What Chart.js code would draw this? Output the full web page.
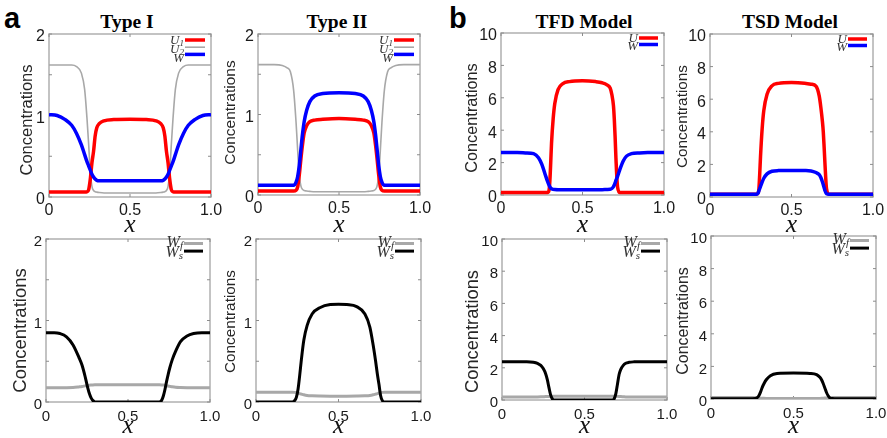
<!DOCTYPE html>
<html>
<head>
<meta charset="utf-8">
<script src="https://cdn.jsdelivr.net/npm/chart.js@4.4.1/dist/chart.umd.min.js"></script>
<style>
  html, body { margin: 0; padding: 0; background: #fff; overflow: hidden; }
  #fig { position: relative; width: 887px; height: 438px; }
  #fig canvas { position: absolute; }
  .ttl { position: absolute; top: 12px; font: bold 19.5px "Liberation Serif", "Times New Roman", serif; line-height: 1; color: #000; transform: translateX(-50%); white-space: nowrap; }
  .tag { position: absolute; top: 4px; font: bold 29px "Liberation Sans", Arial, sans-serif; line-height: 1; color: #000; }
</style>
</head>
<body>
<div id="fig">
  <div class="tag" style="left:4px">a</div>
  <div class="tag" style="left:449px">b</div>
  <div class="ttl" style="left:127px">Type I</div>
  <div class="ttl" style="left:337px">Type II</div>
  <div class="ttl" style="left:584px">TFD Model</div>
  <div class="ttl" style="left:790px">TSD Model</div>
</div>
<script>
// ---- data ----
// a, top: Type I
const typeIX  = [0, 0.05, 0.1, 0.14, 0.17, 0.2, 0.22, 0.235, 0.245, 0.255, 0.265, 0.275, 0.285, 0.295, 0.31, 0.34, 0.4, 0.5, 0.6, 0.66, 0.69, 0.705, 0.715, 0.725, 0.735, 0.745, 0.755, 0.765, 0.78, 0.8, 0.83, 0.86, 0.9, 0.95, 1.0];
const typeIU1 = [0.06, 0.06, 0.06, 0.06, 0.06, 0.06, 0.06, 0.065, 0.09, 0.22, 0.42, 0.56, 0.75, 0.85, 0.9, 0.935, 0.95, 0.955, 0.95, 0.935, 0.9, 0.85, 0.75, 0.56, 0.42, 0.22, 0.09, 0.065, 0.06, 0.06, 0.06, 0.06, 0.06, 0.06, 0.06];
const typeIU2 = [1.62, 1.62, 1.62, 1.62, 1.6, 1.52, 1.32, 0.95, 0.64, 0.3, 0.13, 0.08, 0.065, 0.06, 0.055, 0.05, 0.05, 0.05, 0.05, 0.05, 0.055, 0.06, 0.065, 0.08, 0.13, 0.3, 0.64, 0.95, 1.32, 1.52, 1.6, 1.62, 1.62, 1.62, 1.62];
const typeIW  = [1.01, 1.0, 0.95, 0.88, 0.78, 0.64, 0.52, 0.43, 0.38, 0.33, 0.28, 0.245, 0.22, 0.205, 0.2, 0.2, 0.2, 0.2, 0.2, 0.2, 0.2, 0.205, 0.22, 0.245, 0.28, 0.33, 0.38, 0.43, 0.52, 0.64, 0.78, 0.88, 0.95, 1.0, 1.01];

// a, top: Type II
const typeIIX  = [0, 0.05, 0.1, 0.15, 0.18, 0.2, 0.22, 0.235, 0.245, 0.255, 0.265, 0.275, 0.285, 0.3, 0.32, 0.35, 0.4, 0.5, 0.6, 0.65, 0.68, 0.7, 0.715, 0.725, 0.735, 0.745, 0.755, 0.765, 0.78, 0.8, 0.82, 0.85, 0.9, 0.95, 1.0];
const typeIIU1 = [0.05, 0.05, 0.05, 0.05, 0.05, 0.05, 0.05, 0.06, 0.1, 0.25, 0.45, 0.63, 0.77, 0.86, 0.91, 0.93, 0.94, 0.95, 0.94, 0.93, 0.91, 0.86, 0.77, 0.63, 0.45, 0.25, 0.1, 0.06, 0.05, 0.05, 0.05, 0.05, 0.05, 0.05, 0.05];
const typeIIU2 = [1.62, 1.62, 1.62, 1.61, 1.58, 1.53, 1.3, 0.9, 0.55, 0.24, 0.11, 0.07, 0.055, 0.05, 0.045, 0.04, 0.04, 0.04, 0.04, 0.04, 0.045, 0.05, 0.055, 0.07, 0.11, 0.24, 0.55, 0.9, 1.3, 1.53, 1.58, 1.61, 1.62, 1.62, 1.62];
const typeIIW  = [0.12, 0.12, 0.12, 0.12, 0.12, 0.12, 0.12, 0.16, 0.23, 0.37, 0.57, 0.76, 0.91, 1.05, 1.16, 1.23, 1.26, 1.27, 1.26, 1.23, 1.16, 1.05, 0.91, 0.76, 0.57, 0.37, 0.23, 0.16, 0.12, 0.12, 0.12, 0.12, 0.12, 0.12, 0.12];

// b, top: TFD and TSD models
const modelX = [0, 0.05, 0.1, 0.15, 0.2, 0.23, 0.25, 0.27, 0.285, 0.295, 0.3, 0.305, 0.31, 0.32, 0.33, 0.35, 0.38, 0.42, 0.5, 0.58, 0.62, 0.65, 0.67, 0.68, 0.69, 0.695, 0.7, 0.705, 0.715, 0.73, 0.75, 0.77, 0.8, 0.85, 0.9, 0.95, 1.0];
const tfdU = [0.15, 0.15, 0.15, 0.15, 0.15, 0.15, 0.15, 0.15, 0.15, 0.3, 0.9, 2.0, 3.2, 4.7, 5.65, 6.5, 6.88, 7.0, 7.05, 7.0, 6.93, 6.8, 6.6, 6.2, 5.5, 4.7, 3.6, 2.3, 0.5, 0.15, 0.15, 0.15, 0.15, 0.15, 0.15, 0.15, 0.15];
const tfdW = [2.62, 2.62, 2.62, 2.6, 2.55, 2.3, 1.9, 1.3, 0.85, 0.6, 0.5, 0.43, 0.39, 0.35, 0.34, 0.33, 0.33, 0.33, 0.33, 0.33, 0.33, 0.34, 0.35, 0.4, 0.52, 0.62, 0.75, 0.9, 1.15, 1.6, 2.1, 2.4, 2.55, 2.6, 2.62, 2.62, 2.62];
const tsdU = [0.17, 0.17, 0.17, 0.17, 0.17, 0.17, 0.17, 0.17, 0.17, 0.24, 0.5, 1.4, 2.5, 4.2, 5.3, 6.3, 6.82, 6.97, 7.02, 6.98, 6.92, 6.8, 6.2, 5.5, 4.6, 4.0, 3.1, 2.1, 0.5, 0.17, 0.17, 0.17, 0.17, 0.17, 0.17, 0.17, 0.17];
const tsdW = [0.17, 0.17, 0.17, 0.17, 0.17, 0.17, 0.17, 0.17, 0.17, 0.24, 0.38, 0.52, 0.65, 0.92, 1.15, 1.42, 1.58, 1.62, 1.63, 1.62, 1.6, 1.5, 1.37, 1.2, 0.92, 0.75, 0.58, 0.4, 0.2, 0.17, 0.17, 0.17, 0.17, 0.17, 0.17, 0.17, 0.17];

// bottom row: W_f and W_s
const wTypeIX  = [0, 0.05, 0.085, 0.125, 0.165, 0.2, 0.22, 0.24, 0.255, 0.265, 0.275, 0.285, 0.3, 0.35, 0.5, 0.65, 0.69, 0.705, 0.715, 0.725, 0.735, 0.745, 0.755, 0.77, 0.79, 0.82, 0.86, 0.9, 0.95, 1.0];
const wTypeIWf = [0.176, 0.176, 0.176, 0.176, 0.178, 0.185, 0.19, 0.198, 0.203, 0.206, 0.208, 0.21, 0.211, 0.212, 0.213, 0.212, 0.211, 0.21, 0.208, 0.205, 0.2, 0.196, 0.192, 0.186, 0.18, 0.177, 0.176, 0.176, 0.176, 0.176];
const wTypeIWs = [0.85, 0.85, 0.84, 0.8, 0.7, 0.55, 0.45, 0.3, 0.17, 0.1, 0.05, 0.02, 0, 0, 0, 0, 0, 0.02, 0.07, 0.15, 0.25, 0.34, 0.42, 0.52, 0.62, 0.74, 0.81, 0.84, 0.85, 0.85];

const wTypeIIX  = [0, 0.05, 0.1, 0.15, 0.2, 0.22, 0.235, 0.245, 0.255, 0.265, 0.275, 0.29, 0.31, 0.34, 0.39, 0.45, 0.5, 0.55, 0.61, 0.66, 0.69, 0.71, 0.725, 0.735, 0.745, 0.755, 0.765, 0.78, 0.8, 0.85, 0.9, 0.95, 1.0];
const wTypeIIWf = [0.12, 0.12, 0.12, 0.12, 0.12, 0.12, 0.118, 0.115, 0.11, 0.103, 0.097, 0.088, 0.08, 0.076, 0.073, 0.071, 0.07, 0.071, 0.073, 0.076, 0.08, 0.088, 0.097, 0.103, 0.11, 0.115, 0.118, 0.12, 0.12, 0.12, 0.12, 0.12, 0.12];
const wTypeIIWs = [0, 0, 0, 0, 0, 0, 0.02, 0.06, 0.16, 0.33, 0.52, 0.76, 0.94, 1.08, 1.16, 1.195, 1.2, 1.195, 1.17, 1.08, 0.92, 0.7, 0.5, 0.35, 0.22, 0.08, 0.02, 0, 0, 0, 0, 0, 0];

const wTfdX  = [0, 0.05, 0.1, 0.15, 0.19, 0.215, 0.235, 0.25, 0.265, 0.275, 0.285, 0.295, 0.305, 0.315, 0.33, 0.4, 0.5, 0.6, 0.67, 0.68, 0.69, 0.7, 0.71, 0.72, 0.735, 0.75, 0.77, 0.8, 0.85, 0.9, 0.95, 1.0];
const wTfdWf = [0.18, 0.18, 0.18, 0.18, 0.18, 0.185, 0.195, 0.205, 0.215, 0.22, 0.225, 0.23, 0.235, 0.237, 0.24, 0.24, 0.24, 0.24, 0.238, 0.235, 0.23, 0.225, 0.218, 0.21, 0.2, 0.19, 0.183, 0.18, 0.18, 0.18, 0.18, 0.18];
const wTfdWs = [2.38, 2.38, 2.38, 2.38, 2.35, 2.28, 2.15, 1.95, 1.62, 1.25, 0.75, 0.3, 0.07, 0, 0, 0, 0, 0, 0, 0.08, 0.4, 1.0, 1.6, 1.9, 2.15, 2.28, 2.34, 2.37, 2.38, 2.38, 2.38, 2.38];

const wTsdX  = [0, 0.05, 0.1, 0.15, 0.2, 0.25, 0.268, 0.28, 0.29, 0.3, 0.31, 0.32, 0.335, 0.36, 0.4, 0.5, 0.6, 0.64, 0.66, 0.67, 0.68, 0.69, 0.7, 0.71, 0.72, 0.735, 0.75, 0.8, 0.85, 0.9, 0.95, 1.0];
const wTsdWf = [0.09, 0.09, 0.09, 0.09, 0.09, 0.085, 0.08, 0.07, 0.06, 0.05, 0.045, 0.04, 0.035, 0.03, 0.03, 0.03, 0.03, 0.032, 0.037, 0.042, 0.05, 0.058, 0.066, 0.074, 0.08, 0.085, 0.088, 0.09, 0.09, 0.09, 0.09, 0.09];
const wTsdWs = [0.02, 0.02, 0.02, 0.02, 0.02, 0.02, 0.03, 0.08, 0.2, 0.42, 0.7, 0.92, 1.18, 1.43, 1.56, 1.59, 1.57, 1.5, 1.33, 1.18, 0.95, 0.67, 0.4, 0.2, 0.07, 0.03, 0.02, 0.02, 0.02, 0.02, 0.02, 0.02];

const xTickLabels = { 0: "0", 0.5: "0.5", 1: "1.0" };
const yTitle = "Concentrations";

// ---- styling ----
const RED = "#ff0000", BLUE = "#0000ff", LIGHT = "#a8a8a8", BLACK = "#000000";
const SERIF = '"Liberation Serif", "Times New Roman", serif';
const SANS = '"Liberation Sans", Arial, sans-serif';

Chart.defaults.font.family = SANS;
Chart.defaults.color = "#1a1a1a";

function toPoints(xs, ys) {
  return xs.map((x, i) => ({ x: x, y: ys[i] }));
}

// box frame, inner ticks, rotated y title and the small legend
const framePlugin = {
  id: "frame",
  beforeDatasetsDraw(chart, args, o) {
    const { ctx, chartArea: a, scales: { x, y } } = chart;
    ctx.save();
    ctx.strokeStyle = "#b0b0b0";
    ctx.lineWidth = 1.5;
    ctx.strokeRect(a.left, a.top, a.right - a.left, a.bottom - a.top);

    ctx.strokeStyle = "#8c8c8c";
    ctx.lineWidth = 1;
    ctx.beginPath();
    y.ticks.forEach(t => {
      const py = y.getPixelForValue(t.value);
      ctx.moveTo(a.left, py); ctx.lineTo(a.left + 3, py);
      ctx.moveTo(a.right, py); ctx.lineTo(a.right - 3, py);
    });
    x.ticks.forEach(t => {
      const px = x.getPixelForValue(t.value);
      ctx.moveTo(px, a.top); ctx.lineTo(px, a.top + 3);
      ctx.moveTo(px, a.bottom); ctx.lineTo(px, a.bottom - 3);
    });
    ctx.stroke();

    ctx.translate(a.left - o.titleOff, (a.top + a.bottom) / 2 + o.titleDy);
    ctx.rotate(-Math.PI / 2);
    ctx.font = o.titleSize + "px " + SANS;
    ctx.fillStyle = "#262626";
    ctx.textAlign = "center";
    ctx.textBaseline = "middle";
    ctx.fillText(yTitle, 0, 0);
    ctx.restore();
  },
  afterDatasetsDraw(chart, args, o) {
    const { ctx, chartArea: a } = chart;
    const lg = o.legend;
    ctx.save();
    chart.data.datasets.forEach((ds, i) => {
      const ly = a.top + lg.ly + i * lg.ldy;
      const ty = a.top + lg.ty + i * lg.tdy;
      const x0 = a.right - lg.x0, x1 = a.right - lg.x1;
      ctx.strokeStyle = ds.borderColor;
      ctx.lineWidth = ds.borderWidth;
      ctx.beginPath(); ctx.moveTo(x0, ly); ctx.lineTo(x1, ly); ctx.stroke();

      ctx.fillStyle = "#333";
      ctx.textAlign = "right";
      ctx.textBaseline = "alphabetic";
      let xr = x0 - 1;
      if (ds.sub) {
        ctx.font = "italic " + Math.round(lg.size * 0.7) + "px " + SERIF;
        ctx.fillText(ds.sub, xr, ty + 2);
        xr -= ctx.measureText(ds.sub).width;
      }
      ctx.font = "italic " + lg.size + "px " + SERIF;
      ctx.fillText(ds.main, xr, ty);
    });
    ctx.restore();
  }
};

const topLegend3 = { x0: 26, x1: 6, ly: 6, ldy: 7.2, ty: 9.5, tdy: 9, size: 13 };
const topLegend2 = { x0: 25, x1: 6, ly: 5, ldy: 6.5, ty: 8.7, tdy: 8.3, size: 13 };
const lowLegend  = { x0: 26, x1: 7, ly: 4.5, ldy: 7.6, ty: 7.7, tdy: 10.5, size: 16 };

const panels = [
  { box: [49, 34, 211, 197], yMax: 2, yStep: 0.5, x: typeIX, top: true, titleOff: 22, titleDy: 4.5, titleSize: 16.5, legend: topLegend3,
    series: [
      { y: typeIU1, main: "U", sub: "1", color: RED, width: 3.5, order: 1 },
      { y: typeIU2, main: "U", sub: "2", color: LIGHT, width: 1.6, order: 2 },
      { y: typeIW, main: "W", sub: "", color: BLUE, width: 3.5, order: 0 }] },
  { box: [258, 34, 420, 195], yMax: 2, yStep: 0.5, x: typeIIX, top: true, titleOff: 27, titleDy: -2, titleSize: 15.5, legend: topLegend3,
    series: [
      { y: typeIIU1, main: "U", sub: "1", color: RED, width: 3.5, order: 1 },
      { y: typeIIU2, main: "U", sub: "2", color: LIGHT, width: 1.6, order: 2 },
      { y: typeIIW, main: "W", sub: "", color: BLUE, width: 3.5, order: 0 }] },
  { box: [501, 33, 664, 195], yMax: 10, yStep: 2, x: modelX, top: true, titleOff: 28.5, titleDy: 4, titleSize: 16.3, legend: topLegend2,
    series: [
      { y: tfdU, main: "U", sub: "", color: RED, width: 3.5, order: 1 },
      { y: tfdW, main: "W", sub: "", color: BLUE, width: 3.5, order: 0 }] },
  { box: [710, 34, 873, 197], yMax: 10, yStep: 2, x: modelX, top: true, titleOff: 27.5, titleDy: 1, titleSize: 15.3, legend: topLegend2,
    series: [
      { y: tsdU, main: "U", sub: "", color: RED, width: 3.5, order: 1 },
      { y: tsdW, main: "W", sub: "", color: BLUE, width: 3.5, order: 0 }] },
  { box: [46, 239, 210, 402], yMax: 2, yStep: 0.5, x: wTypeIX, top: false, titleOff: 25, titleDy: 10, titleSize: 18.5, legend: lowLegend,
    series: [
      { y: wTypeIWf, main: "W", sub: "f", color: LIGHT, width: 3, order: 1 },
      { y: wTypeIWs, main: "W", sub: "s", color: BLACK, width: 3, order: 0 }] },
  { box: [256, 239, 421, 402], yMax: 2, yStep: 0.5, x: wTypeIIX, top: false, titleOff: 25, titleDy: 1, titleSize: 15.3, legend: lowLegend,
    series: [
      { y: wTypeIIWf, main: "W", sub: "f", color: LIGHT, width: 3, order: 1 },
      { y: wTypeIIWs, main: "W", sub: "s", color: BLACK, width: 3, order: 0 }] },
  { box: [502, 239, 667, 400], yMax: 10, yStep: 2, x: wTfdX, top: false, titleOff: 29.5, titleDy: 12, titleSize: 18.3, legend: lowLegend,
    series: [
      { y: wTfdWf, main: "W", sub: "f", color: LIGHT, width: 3, order: 1 },
      { y: wTfdWs, main: "W", sub: "s", color: BLACK, width: 3, order: 0 }] },
  { box: [711, 236, 876, 399], yMax: 10, yStep: 2, x: wTsdX, top: false, titleOff: 27, titleDy: 3.5, titleSize: 16, legend: lowLegend,
    series: [
      { y: wTsdWf, main: "W", sub: "f", color: LIGHT, width: 3, order: 1 },
      { y: wTsdWs, main: "W", sub: "s", color: BLACK, width: 3, order: 0 }] }
];

const fig = document.getElementById("fig");

function makePanel(p) {
  const [L, T, R, B] = p.box;
  const axisW = 46, padT = 16, padR = 18;
  const xTitleY = p.top ? 225 : 426;
  const axisH = xTitleY + 15 - B;
  const w = Math.round((R - L) + axisW + padR);
  const h = Math.round((B - T) + padT + axisH);

  const canvas = document.createElement("canvas");
  canvas.width = w; canvas.height = h;
  canvas.style.width = w + "px"; canvas.style.height = h + "px";
  canvas.style.left = (L - axisW) + "px";
  canvas.style.top = (T - padT) + "px";
  fig.appendChild(canvas);

  new Chart(canvas, {
    type: "line",
    data: {
      datasets: p.series.map(s => ({
        data: toPoints(p.x, s.y),
        main: s.main,
        sub: s.sub,
        borderColor: s.color,
        borderWidth: s.width,
        pointRadius: 0,
        fill: false,
        cubicInterpolationMode: "monotone",
        order: s.order
      }))
    },
    options: {
      responsive: false,
      animation: false,
      events: [],
      layout: { padding: { top: padT, right: padR, left: 0, bottom: 0 } },
      plugins: {
        legend: { display: false },
        tooltip: { enabled: false },
        frame: { titleOff: p.titleOff, titleDy: p.titleDy, titleSize: p.titleSize, legend: p.legend }
      },
      scales: {
        x: {
          type: "linear", min: 0, max: 1,
          grid: { display: false, drawTicks: false }, border: { display: false },
          ticks: {
            stepSize: 0.5, autoSkip: false, maxRotation: 0, padding: p.top ? 4 : 6,
            font: { size: p.top ? 16 : 15 },
            callback: v => xTickLabels[v] ?? ""
          },
          title: {
            display: true, text: "x", color: "#111", padding: 0,
            font: { family: SERIF, style: "italic", size: 25 }
          },
          afterFit: s => { s.height = axisH; }
        },
        y: {
          type: "linear", min: 0, max: p.yMax,
          grid: { display: false, drawTicks: false }, border: { display: false },
          ticks: {
            stepSize: p.yStep, autoSkip: false, padding: 4, labelOffset: 3,
            font: { size: p.top ? 16 : 15 },
            callback: v => (p.yMax === 2 && v % 1 !== 0) ? "" : String(v)
          },
          afterFit: s => { s.width = axisW; }
        }
      }
    },
    plugins: [framePlugin]
  });
}

panels.forEach(makePanel);
</script>
</body>
</html>
